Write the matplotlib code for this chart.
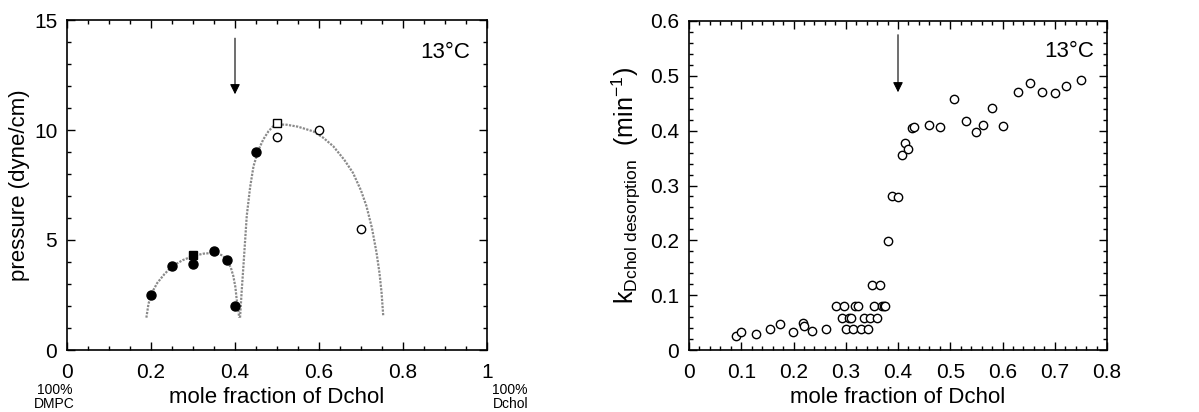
import matplotlib
matplotlib.use("Agg")
import matplotlib.pyplot as plt
from matplotlib.ticker import MultipleLocator

plt.rcParams['font.family'] = ['Liberation Sans', 'DejaVu Sans']
plt.rcParams['mathtext.fontset'] = 'custom'
plt.rcParams['mathtext.rm'] = 'Liberation Sans'
plt.rcParams['mathtext.it'] = 'Liberation Sans'

# ---------- left panel data ----------
filled_circle_x = [0.20, 0.25, 0.30, 0.35, 0.38, 0.40, 0.45]
filled_circle_y = [2.5, 3.8, 3.9, 4.5, 4.1, 2.0, 9.0]
filled_square_x = [0.30]
filled_square_y = [4.3]
open_square_x = [0.50]
open_square_y = [10.3]
open_circle_x = [0.50, 0.60, 0.70]
open_circle_y = [9.7, 10.0, 5.5]

dome1_x = [0.189, 0.194, 0.202, 0.215, 0.232, 0.250, 0.275, 0.300, 0.325, 0.353, 0.370, 0.380, 0.390, 0.396, 0.401, 0.404, 0.408, 0.410]
dome1_y = [1.47, 2.10, 2.60, 3.05, 3.45, 3.80, 4.08, 4.27, 4.38, 4.42, 4.30, 4.10, 3.75, 3.36, 2.85, 2.30, 1.80, 1.47]
dome2_x = [0.412, 0.416, 0.420, 0.428, 0.436, 0.444, 0.455, 0.467, 0.480, 0.491, 0.505, 0.523, 0.550, 0.586, 0.610, 0.634, 0.660, 0.681, 0.700, 0.713, 0.726, 0.737, 0.744, 0.749, 0.753]
dome2_y = [1.47, 2.70, 3.80, 6.10, 7.40, 8.35, 9.05, 9.56, 9.95, 10.17, 10.25, 10.24, 10.15, 9.94, 9.65, 9.26, 8.65, 8.05, 7.25, 6.54, 5.55, 4.42, 3.50, 2.60, 1.54]

# ---------- right panel data ----------
k_x = [0.089, 0.100, 0.129, 0.155, 0.174, 0.199, 0.218, 0.221, 0.236, 0.263,
       0.281, 0.297, 0.292, 0.306, 0.311, 0.301, 0.314, 0.318, 0.324, 0.329,
       0.334, 0.342, 0.346, 0.350, 0.365, 0.355, 0.360, 0.370, 0.373, 0.376,
       0.381, 0.389, 0.400, 0.408, 0.413, 0.420, 0.426, 0.431, 0.460, 0.480,
       0.508, 0.531, 0.550, 0.563, 0.580, 0.601, 0.630, 0.652, 0.675, 0.700,
       0.722, 0.750]
k_y = [0.0255, 0.032, 0.029, 0.039, 0.047, 0.033, 0.050, 0.044, 0.035, 0.038,
       0.080, 0.080, 0.059, 0.059, 0.059, 0.038, 0.038, 0.080, 0.080, 0.038,
       0.059, 0.038, 0.059, 0.119, 0.119, 0.080, 0.059, 0.080, 0.080, 0.080,
       0.199, 0.281, 0.279, 0.355, 0.377, 0.366, 0.404, 0.406, 0.410, 0.406,
       0.458, 0.418, 0.398, 0.410, 0.442, 0.409, 0.471, 0.487, 0.471, 0.468,
       0.481, 0.492]

FS = 15
fig = plt.figure(figsize=(11.99, 4.12), dpi=100)
ax1 = fig.add_axes([67/1199, 1-350/412, 420/1199, 330/412])
ax2 = fig.add_axes([689/1199, 1-350/412, 418/1199, 329/412])

def style(ax):
    ax.tick_params(which='both', direction='in', top=True, right=True, labelsize=FS, width=1.0)
    ax.tick_params(which='major', length=6)
    ax.tick_params(axis='x', which='major', pad=9)
    ax.tick_params(axis='y', which='major', pad=7)
    ax.tick_params(which='minor', length=3)
    for s in ax.spines.values():
        s.set_linewidth(1.2)

# left
ax1.plot(dome1_x, dome1_y, color='#8a8a8a', lw=1.6, ls=(0, (1, 0.6)), zorder=1)
ax1.plot(dome2_x, dome2_y, color='#8a8a8a', lw=1.6, ls=(0, (1, 0.6)), zorder=1)
ax1.plot(filled_circle_x, filled_circle_y, 'o', color='black', ms=6.5, zorder=3)
ax1.plot(filled_square_x, filled_square_y, 's', color='black', ms=6, zorder=3)
ax1.plot(open_square_x, open_square_y, 's', mfc='white', mec='black', mew=1, ms=6, zorder=3)
ax1.plot(open_circle_x, open_circle_y, 'o', mfc='white', mec='black', mew=1, ms=6, zorder=3)
ax1.set_xlim(0, 1)
ax1.set_ylim(0, 15)
ax1.xaxis.set_minor_locator(MultipleLocator(0.05))
ax1.yaxis.set_major_locator(MultipleLocator(5))
ax1.yaxis.set_minor_locator(MultipleLocator(1))
ax1.set_xticks([0, 0.2, 0.4, 0.6, 0.8, 1])
ax1.set_xticklabels(['0', '0.2', '0.4', '0.6', '0.8', '1'])
style(ax1)
ax1.set_ylabel('pressure (dyne/cm)', fontsize=FS + 1, labelpad=3)
ax1.set_xlabel('mole fraction of Dchol', fontsize=FS + 1, labelpad=4)
ax1.annotate('', xy=(0.4, 11.5), xytext=(0.4, 14.3),
             arrowprops=dict(arrowstyle='-|>', color='black', lw=0.8, mutation_scale=15))
ax1.text(0.96, 13.5, '13°C', fontsize=FS + 1, ha='right', va='center')
ax1.text(-0.03, -0.10, '100%\nDMPC', transform=ax1.transAxes, fontsize=10, ha='center', va='top', linespacing=1.0)
ax1.text(1.013, -0.10, '100%\nDchol', transform=ax1.transAxes, fontsize=10, ha='left', va='top', linespacing=1.0)

# right
ax2.plot(k_x, k_y, 'o', mfc='white', mec='black', mew=1, ms=6)
ax2.set_xlim(0, 0.8)
ax2.set_ylim(0, 0.6)
ax2.xaxis.set_minor_locator(MultipleLocator(0.02))
ax2.yaxis.set_minor_locator(MultipleLocator(0.02))
ax2.set_xticks([0, 0.1, 0.2, 0.3, 0.4, 0.5, 0.6, 0.7, 0.8])
ax2.set_xticklabels(['0', '0.1', '0.2', '0.3', '0.4', '0.5', '0.6', '0.7', '0.8'])
ax2.set_yticks([0, 0.1, 0.2, 0.3, 0.4, 0.5, 0.6])
ax2.set_yticklabels(['0', '0.1', '0.2', '0.3', '0.4', '0.5', '0.6'])
style(ax2)
ax2.set_ylabel(r'k$_{\mathrm{Dchol\ desorption}}$  (min$^{\mathrm{-1}}$)', fontsize=FS + 3, labelpad=5)
ax2.set_xlabel('mole fraction of Dchol', fontsize=FS + 1, labelpad=4)
ax2.annotate('', xy=(0.4, 0.465), xytext=(0.4, 0.58),
             arrowprops=dict(arrowstyle='-|>', color='black', lw=0.8, mutation_scale=15))
ax2.text(0.775, 0.545, '13°C', fontsize=FS + 1, ha='right', va='center')

fig.savefig('out.png', dpi=100)
